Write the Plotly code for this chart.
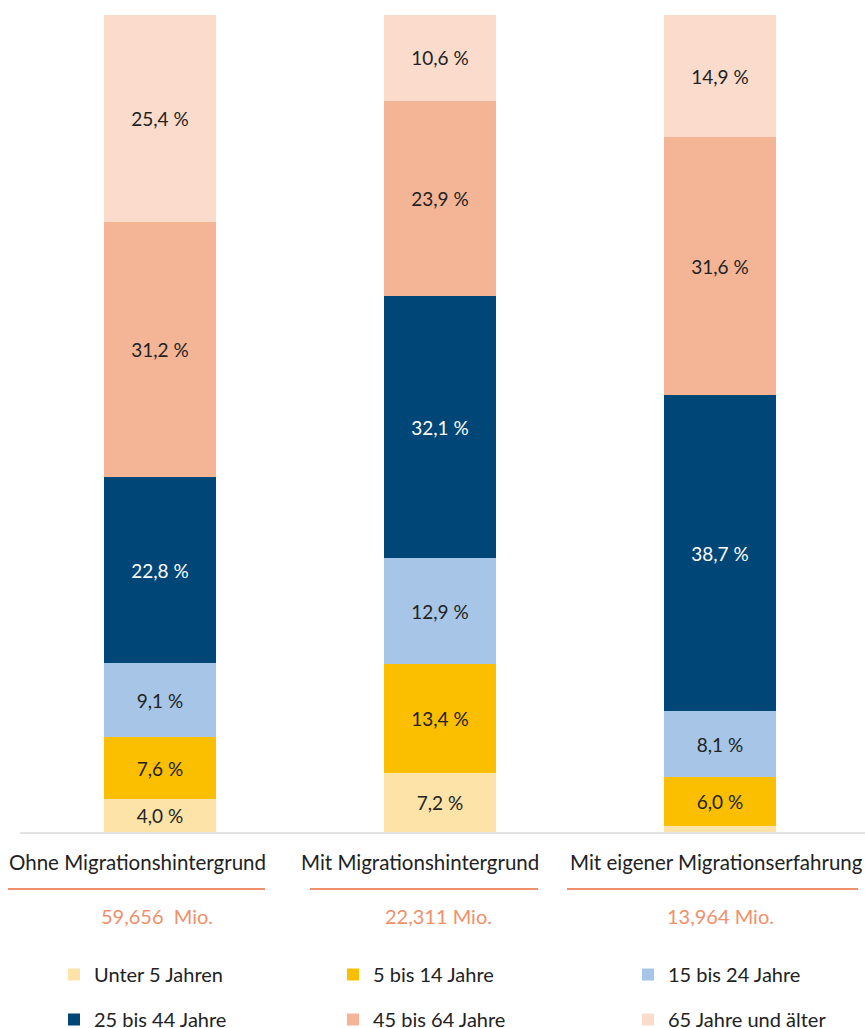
import plotly.graph_objects as go

# Population by migration status and age group (shares in %)
groups = ["Ohne Migrationshintergrund", "Mit Migrationshintergrund", "Mit eigener Migrationserfahrung"]
totals = ["59,656\u00a0 Mio.", "22,311 Mio.", "13,964 Mio."]

age_classes = ["Unter 5 Jahren", "5 bis 14 Jahre", "15 bis 24 Jahre",
               "25 bis 44 Jahre", "45 bis 64 Jahre", "65 Jahre und älter"]

unter_5 = [4.0, 7.2, 0.7]
j5_14 = [7.6, 13.4, 6.0]
j15_24 = [9.1, 12.9, 8.1]
j25_44 = [22.8, 32.1, 38.7]
j45_64 = [31.2, 23.9, 31.6]
j65_plus = [25.4, 10.6, 14.9]

series = [unter_5, j5_14, j15_24, j25_44, j45_64, j65_plus]
colors = ["#fde3a8", "#fbbf00", "#a7c6e7", "#004677", "#f4b597", "#fbdccc"]
text_colors = ["#222222", "#222222", "#222222", "#ffffff", "#222222", "#222222"]
# legend column for each age class
legend_ids = ["legend", "legend2", "legend3", "legend", "legend2", "legend3"]

W, H = 865, 1028
M_TOP, M_BOT = 15, 196
PLOT_H = H - M_TOP - M_BOT
BASE_Y = H - M_BOT


def px_x(x):
    return x / W


def px_y(y):
    return (BASE_Y - y) / PLOT_H


FONT = "Lato, Noto Sans, sans-serif"
xpos = list(range(len(groups)))

fig = go.Figure()
for i, (name, vals) in enumerate(zip(age_classes, series)):
    labels = [f"{v:.1f} %".replace(".", ",") if v >= 2 else "" for v in vals]
    fig.add_trace(go.Bar(
        x=xpos, y=vals, name=name,
        marker=dict(color=colors[i], line=dict(width=0)),
        width=0.4,
        text=labels, texttemplate="%{text}",
        textposition="inside", insidetextanchor="middle", textangle=0,
        constraintext="none",
        textfont=dict(color=text_colors[i], size=19, family=FONT),
        legend=legend_ids[i], legendgroup=name,
        hoverinfo="skip",
    ))

# bar centres at 160, 440, 720 px with a 280 px pitch
fig.update_xaxes(range=[-160 / 280, (W - 160) / 280], visible=False, fixedrange=True)
fig.update_yaxes(range=[0, 100], visible=False, fixedrange=True)

shapes = [
    # baseline
    dict(type="line", xref="paper", yref="paper",
         x0=px_x(20), x1=1, y0=px_y(833), y1=px_y(833),
         line=dict(color="#d9d9d9", width=1.5)),
]
# orange rules under the group names
for x0, x1 in [(8, 265), (310, 538), (567, 858)]:
    shapes.append(dict(type="line", xref="paper", yref="paper",
                       x0=px_x(x0), x1=px_x(x1), y0=px_y(889), y1=px_y(889),
                       line=dict(color="#f0906a", width=2)))

annotations = []
for cx, g in zip([137, 420, 716], groups):
    annotations.append(dict(text=g, xref="paper", yref="paper", x=px_x(cx), y=px_y(862),
                            xanchor="center", yanchor="middle", showarrow=False,
                            font=dict(size=20.5, color="#222222", family=FONT)))
for cx, t in zip([157, 438, 720], totals):
    annotations.append(dict(text=t, xref="paper", yref="paper", x=px_x(cx), y=px_y(916),
                            xanchor="center", yanchor="middle", showarrow=False,
                            font=dict(size=20, color="#f0906a", family=FONT)))

legend_style = dict(orientation="v", yanchor="top", y=px_y(955), xanchor="left",
                    bgcolor="rgba(0,0,0,0)", traceorder="grouped", tracegroupgap=16,
                    font=dict(size=20, color="#222222", family=FONT),
                    itemclick=False, itemdoubleclick=False)

fig.update_layout(
    width=W, height=H,
    margin=dict(l=0, r=0, t=M_TOP, b=M_BOT, autoexpand=False),
    barmode="stack", bargap=0,
    plot_bgcolor="white", paper_bgcolor="white",
    font=dict(family=FONT, color="#222222"),
    shapes=shapes, annotations=annotations,
    legend=dict(legend_style, x=px_x(54)),
    legend2=dict(legend_style, x=px_x(333)),
    legend3=dict(legend_style, x=px_x(628)),
    showlegend=True,
)

fig.write_html("out.html", config={"displayModeBar": False})
